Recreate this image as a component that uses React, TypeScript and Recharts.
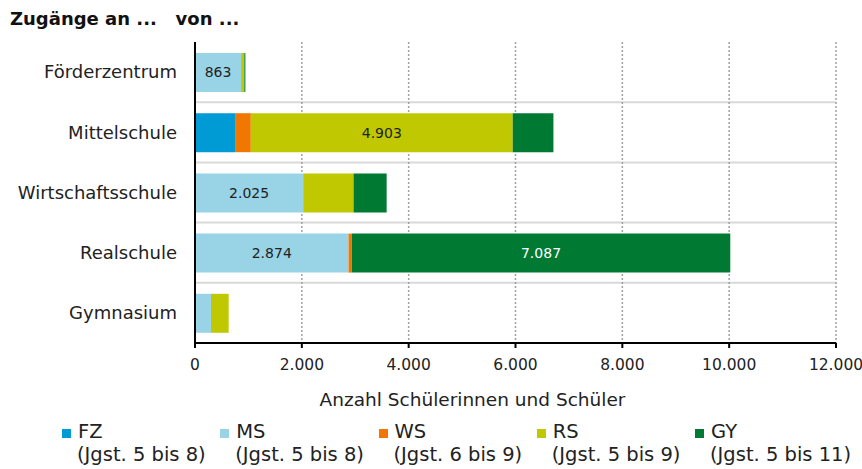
import { BarChart, Bar, XAxis, YAxis, CartesianGrid, LabelList } from "recharts";

const categories = ["Förderzentrum", "Mittelschule", "Wirtschaftsschule", "Realschule", "Gymnasium"];

// Zugänge je abgebende Schulart
const fz = [0, 750, 0, 0, 0];
const ms = [863, 0, 2025, 2874, 300];
const ws = [0, 295, 0, 60, 0];
const rs = [60, 4903, 943, 0, 330];
const gy = [20, 762, 620, 7087, 0];

const seriesKeys = ["FZ", "MS", "WS", "RS", "GY"];
const seriesNotes = ["(Jgst. 5 bis 8)", "(Jgst. 5 bis 8)", "(Jgst. 6 bis 9)", "(Jgst. 5 bis 9)", "(Jgst. 5 bis 11)"];
const seriesColors = ["#009bd4", "#98d3e6", "#f07800", "#bfc800", "#007a33"];
const labelColors = ["#222", "#222", "#222", "#222", "#fff"];

// which segments carry a value label
const labelled = [
  ["Förderzentrum", "MS"],
  ["Mittelschule", "RS"],
  ["Wirtschaftsschule", "MS"],
  ["Realschule", "MS"],
  ["Realschule", "GY"],
];

const xTicks = [0, 2000, 4000, 6000, 8000, 10000, 12000];

const fmt = (v: number) => String(v).replace(/\B(?=(\d{3})+(?!\d))/g, ".");

const values = [fz, ms, ws, rs, gy];
const data = categories.map((name, i) => {
  const row: Record<string, string | number> = { name };
  seriesKeys.forEach((k, s) => {
    row[k] = values[s][i];
    row[k + "_label"] = labelled.some(([c, key]) => c === name && key === k) ? fmt(values[s][i]) : "";
  });
  return row;
});

const font = "'DejaVu Sans', Verdana, sans-serif";

export default function App() {
  return (
    <div style={{ position: "absolute", left: 0, top: 0, width: 862, height: 469, fontFamily: font, background: "#fff" }}>
      <div style={{ position: "absolute", left: 10, top: 8, fontSize: 18, fontWeight: "bold", whiteSpace: "pre", color: "#111" }}>
        {"Zugänge an ...   von ..."}
      </div>
      <BarChart
        width={862}
        height={469}
        data={data}
        layout="vertical"
        margin={{ top: 42, right: 26, bottom: 56, left: 0 }}
        style={{ fontFamily: font }}
      >
        <CartesianGrid
          vertical={false}
          stroke="#d9d9d9"
          strokeWidth={2}
          horizontalCoordinatesGenerator={({ offset }: any) =>
            categories.slice(1).map((_, k) => offset.top + ((k + 1) * offset.height) / categories.length)
          }
        />
        <CartesianGrid horizontal={false} stroke="#a0a0a0" strokeWidth={1.5} strokeDasharray="2 2" />
        <XAxis
          type="number"
          domain={[0, 12000]}
          ticks={xTicks}
          tickFormatter={fmt}
          height={70}
          axisLine={{ stroke: "#000", strokeWidth: 2 }}
          tickLine={{ stroke: "#000", strokeWidth: 2 }}
          tickSize={5}
          tickMargin={11}
          tick={{ fill: "#222", fontSize: 15.5 }}
          label={{ value: "Anzahl Schülerinnen und Schüler", position: "insideBottom", offset: 7, dx: -43, fill: "#222", fontSize: 18.5 }}
        />
        <XAxis
          xAxisId="top"
          orientation="top"
          type="number"
          domain={[0, 12000]}
          height={0}
          tick={false}
          tickLine={false}
          axisLine={{ stroke: "#000", strokeWidth: 2 }}
        />
        <YAxis
          type="category"
          dataKey="name"
          width={195}
          axisLine={{ stroke: "#000", strokeWidth: 2 }}
          tickLine={false}
          tickSize={6}
          tickMargin={12}
          tick={{ fill: "#222", fontSize: 18 }}
        />
        <YAxis yAxisId="right" orientation="right" type="category" dataKey="name" width={0} tick={false} tickLine={false} axisLine={{ stroke: "#000", strokeWidth: 2 }} />
        {seriesKeys.map((k, s) => (
          <Bar key={k} dataKey={k} stackId="a" fill={seriesColors[s]} barSize={39} isAnimationActive={false}>
            <LabelList dataKey={k + "_label"} position="center" fill={labelColors[s]} fontSize={14} />
          </Bar>
        ))}
      </BarChart>
      <div style={{ position: "absolute", left: 62, top: 420, display: "flex", fontSize: 19.5, color: "#222", lineHeight: "23px" }}>
        {seriesKeys.map((k, s) => (
          <div key={k} style={{ width: 158.25, position: "relative", whiteSpace: "nowrap" }}>
            <span style={{ position: "absolute", left: 0, top: 9, width: 9, height: 9, background: seriesColors[s] }} />
            <div style={{ paddingLeft: 16 }}>{k}</div>
            <div style={{ paddingLeft: 15 }}>{seriesNotes[s]}</div>
          </div>
        ))}
      </div>
    </div>
  );
}
